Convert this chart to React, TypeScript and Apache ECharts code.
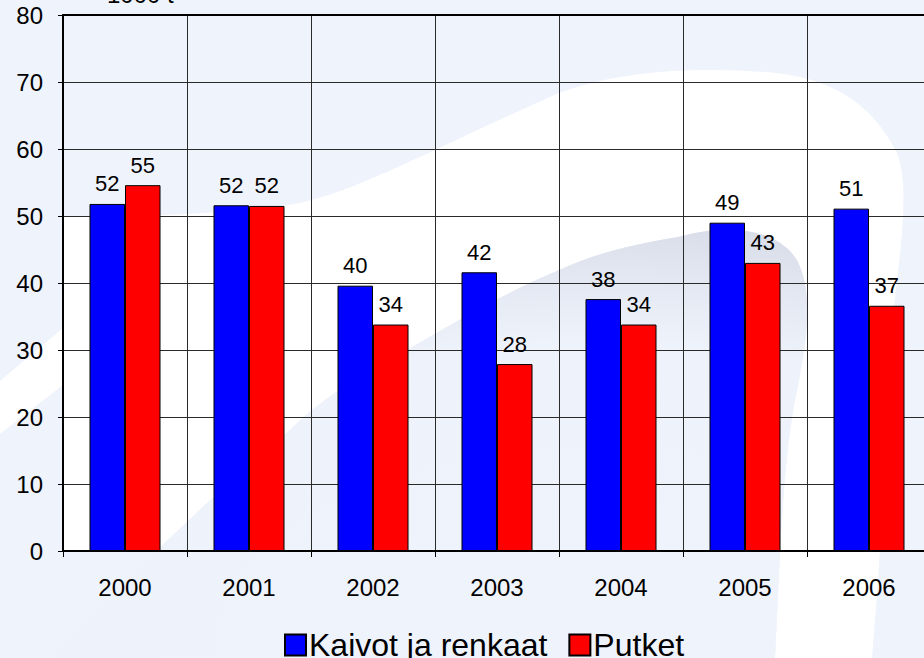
import React, { useEffect, useRef } from "react";
import * as echarts from "echarts";

const categories = ["2000", "2001", "2002", "2003", "2004", "2005", "2006"];
const kaivotValues = [51.8, 51.6, 39.6, 41.6, 37.6, 49.0, 51.1];
const putketValues = [54.6, 51.5, 33.8, 27.9, 33.8, 43.0, 36.6];
const seriesNames = ["Kaivot ja renkaat", "Putket"];
const unitLabel = "1000 t";

const FONT = '"Liberation Sans", Arial, sans-serif';

const WHITE_BAND =
  "M 63 217 C 130 217, 240 214, 300 203 C 360 190, 430 150, 559 93 C 620 70, 700 66, 777 73 " +
  "C 830 80, 870 100, 897 153 C 915 200, 890 300, 888 380 C 885 480, 880 560, 872 658 L 775 658 " +
  "C 780 560, 782 470, 795 400 C 810 330, 812 290, 797 260 C 775 225, 720 225, 678 237 " +
  "C 630 245, 600 252, 559 270 C 500 295, 450 325, 407 350 C 360 375, 320 400, 290 430 " +
  "C 240 470, 200 510, 156 551 L 63 551 Z";

const INNER_SHADOW =
  "M 50 658 L 156 551 C 200 510, 240 470, 290 430 C 320 400, 360 375, 407 350 " +
  "C 450 325, 500 295, 559 270 C 600 252, 630 245, 678 237 C 720 225, 775 225, 797 260 " +
  "C 812 290, 810 330, 795 400 C 782 470, 780 560, 775 658 Z";

const LEFT_STRIPE = "M 0 381 L 63 328 L 63 385 L 0 434 Z";

let registered = false;
function registerShapes() {
  if (registered) return;
  registered = true;
  echarts.graphic.registerShape("whiteBand", echarts.graphic.extendPath(WHITE_BAND, {}) as any);
  echarts.graphic.registerShape("innerShadow", echarts.graphic.extendPath(INNER_SHADOW, {}) as any);
  echarts.graphic.registerShape("leftStripe", echarts.graphic.extendPath(LEFT_STRIPE, {}) as any);
}

export default function App() {
  const ref = useRef<HTMLDivElement>(null);

  useEffect(() => {
    if (!ref.current) return;
    document.documentElement.style.overflow = "hidden";
    document.body.style.overflow = "hidden";
    document.body.style.margin = "0";
    registerShapes();
    const chart = echarts.init(ref.current, null, { renderer: "svg" });

    const labelCfg = {
      show: true,
      position: "top",
      distance: 9,
      color: "#000",
      fontSize: 22,
      fontFamily: FONT,
      formatter: (p: any) => String(Math.round(p.value)),
    };

    chart.setOption({
      animation: false,
      backgroundColor: "#eff3fc",
      graphic: {
        elements: [
          {
            type: "leftStripe",
            x: 0,
            y: 0,
            z: -10,
            silent: true,
            style: { fill: "#ffffff" },
          },
          {
            type: "whiteBand",
            x: 0,
            y: 0,
            z: -10,
            silent: true,
            style: { fill: "#ffffff" },
          },
          {
            type: "innerShadow",
            x: 0,
            y: 0,
            z: -9,
            silent: true,
            style: {
              fill: new echarts.graphic.RadialGradient(0.722, 1.0, 1.3, [
                { offset: 0, color: "#eff3fc" },
                { offset: 0.57, color: "#eef2fb" },
                { offset: 0.69, color: "#e3e7f1" },
                { offset: 0.79, color: "#d7dce8" },
                { offset: 1, color: "#cdd3df" },
              ]),
            },
          },
          {
            type: "text",
            left: 107,
            top: -18,
            z: 5,
            style: {
              text: unitLabel,
              fill: "#000",
              font: `24px ${FONT}`,
            },
          },
        ],
      },
      grid: { left: 63, top: 15, width: 868, height: 536, containLabel: false },
      legend: {
        data: seriesNames,
        left: 279,
        top: 624,
        itemWidth: 21,
        itemHeight: 21,
        itemGap: 21,
        icon: "rect",
        textStyle: { fontSize: 32, lineHeight: 32, color: "#000", fontFamily: FONT, padding: [0, 0, 0, -2] },
      },
      xAxis: [
        {
          type: "category",
          data: categories,
          position: "bottom",
          axisLine: { show: true, lineStyle: { color: "#000", width: 2 } },
          axisTick: { show: true, length: 6, lineStyle: { color: "#000", width: 1 } },
          axisLabel: { color: "#000", fontSize: 24, fontFamily: FONT, margin: 24 },
          splitLine: { show: true, lineStyle: { color: "#2a2a2a", width: 1 } },
        },
        {
          type: "category",
          data: categories,
          position: "top",
          axisLine: { show: true, lineStyle: { color: "#000", width: 2 } },
          axisTick: { show: false },
          axisLabel: { show: false },
          splitLine: { show: false },
        },
      ],
      yAxis: {
        type: "value",
        min: 0,
        max: 80,
        interval: 10,
        axisLine: { show: true, lineStyle: { color: "#000", width: 2 } },
        axisTick: { show: true, length: 5, lineStyle: { color: "#000", width: 1 } },
        axisLabel: { color: "#000", fontSize: 24, fontFamily: FONT, margin: 20 },
        splitLine: { show: true, lineStyle: { color: "#2a2a2a", width: 1 } },
      },
      series: [
        {
          name: seriesNames[0],
          type: "bar",
          data: kaivotValues,
          barWidth: 35.5,
          barGap: "0%",
          itemStyle: { color: "#0000ff", borderColor: "#000", borderWidth: 1 },
          label: labelCfg,
        },
        {
          name: seriesNames[1],
          type: "bar",
          data: putketValues,
          barWidth: 35.5,
          barGap: "0%",
          itemStyle: { color: "#ff0000", borderColor: "#000", borderWidth: 1 },
          label: labelCfg,
        },
      ],
    });

    return () => chart.dispose();
  }, []);

  return (
    <div
      ref={ref}
      style={{ position: "absolute", left: 0, top: 0, width: 932, height: 658 }}
    />
  );
}
